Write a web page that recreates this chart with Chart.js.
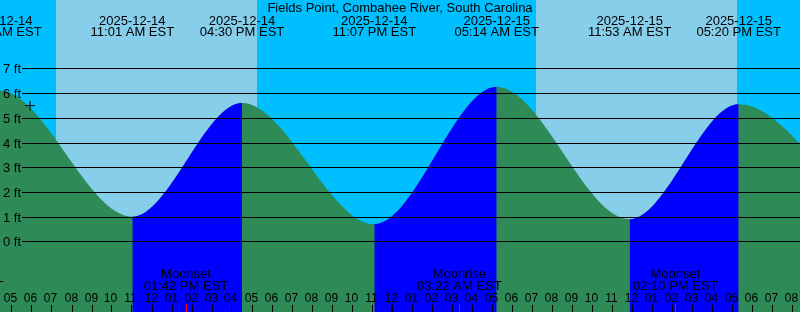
<!DOCTYPE html>
<html lang="en">
<head>
    <meta charset="UTF-8">
    <title>Fields Point Tides</title>

    <!--  Chart.js  -->
    <script src="https://cdn.jsdelivr.net/npm/chart.js@4.4.1/dist/chart.umd.min.js"></script>

    <style>
        html, body { margin: 0; padding: 0; background: #00BFFF; overflow: hidden; }
        #tideChart { display: block; }
    </style>
</head>
<body>
    <canvas id="tideChart" width="800" height="312"></canvas>

    <script>
        // ***********
        // Tide graph for Fields Point, Combahee River, SC (times are EST)
        // ***********
        var stationName = 'Fields Point, Combahee River, South Carolina';

        // Highs and lows (first and last one fall outside the window)
        var tideDates   = ['2025-12-13', '2025-12-14', '2025-12-14', '2025-12-14', '2025-12-14', '2025-12-15', '2025-12-15', '2025-12-15', '2025-12-15'];
        var tideClock   = ['10:05 PM', '04:22 AM', '11:01 AM', '04:30 PM', '11:07 PM', '05:14 AM', '11:53 AM', '05:20 PM', '11:55 PM'];
        var tideHeights = [0.9, 6.1, 1.0, 5.6, 0.7, 6.25, 0.9, 5.55, 0.7];

        // Daylight
        var sunDates = ['2025-12-14', '2025-12-15'];
        var sunrise  = ['07:12 AM', '07:12 AM'];
        var sunset   = ['05:15 PM', '05:15 PM'];

        // Moon events
        var moonDates = ['2025-12-14', '2025-12-15', '2025-12-15'];
        var moonClock = ['01:42 PM', '03:22 AM', '02:10 PM'];
        var moonKind  = ['Moonset', 'Moonrise', 'Moonset'];

        // "Now" marker
        var nowPoint = {x: 5.9, y: 5.49};

        // Depth tick labels (ft)
        var feetTicks = [0, 1, 2, 3, 4, 5, 6, 7];

        // Visible window, hours from 2025-12-14 00:00
        var windowStart = 4.40;
        var windowEnd   = 44.40;

        var NIGHT = '#00BFFF', DAY = '#87CEEB', EBB = '#2E8B57', FLOOD = '#0000FF';
        var FONT = '"Liberation Sans", Arial, sans-serif';


        // Convert date + "hh:mm AM" to hours from 2025-12-14 00:00
        function toHours(date, clock) {
            var day = parseInt(date.slice(8), 10) - 14;
            var hh = parseInt(clock.slice(0, 2), 10) % 12;
            var mm = parseInt(clock.slice(3, 5), 10);
            if (clock.slice(6) === 'PM') { hh += 12; }
            return day * 24 + hh + mm / 60;
        } // END: toHours

        var tideHours = tideDates.map(function(d, i) { return toHours(d, tideClock[i]); });
        var tideData  = tideHours.map(function(t, i) { return {x: t, y: tideHeights[i]}; });


        // ************
        // Decorations
        // ************
        var tideDecor = {
            id: 'tideDecor',

            // Night / day background
            beforeDatasetsDraw: function(chart) {
                var ctx = chart.ctx, xs = chart.scales.x, area = chart.chartArea;
                ctx.save();
                ctx.fillStyle = NIGHT;
                ctx.fillRect(area.left, area.top, area.width, area.height);
                ctx.fillStyle = DAY;
                for (var i = 0; i < sunDates.length; i++) {
                    var x0 = Math.round(xs.getPixelForValue(toHours(sunDates[i], sunrise[i])));
                    var x1 = Math.round(xs.getPixelForValue(toHours(sunDates[i], sunset[i])));
                    ctx.fillRect(x0, area.top, x1 - x0, area.height);
                }
                ctx.restore();
            },

            // Grid lines, labels and hour ticks on top of the water
            afterDatasetsDraw: function(chart) {
                var ctx = chart.ctx, xs = chart.scales.x, ys = chart.scales.y, area = chart.chartArea;
                ctx.save();
                ctx.fillStyle = '#000';
                ctx.strokeStyle = '#000';
                ctx.lineWidth = 1;

                // Depth lines + labels
                ctx.font = '13px ' + FONT;
                ctx.textAlign = 'right';
                feetTicks.forEach(function(ft) {
                    var y = Math.round(ys.getPixelForValue(ft)) + 0.5;
                    ctx.beginPath();
                    ctx.moveTo(22, y);
                    ctx.lineTo(area.right, y);
                    ctx.stroke();
                    ctx.fillText(ft + ' ft', 21, y + 4);
                });
                ctx.fillRect(0, 281, 3, 1);

                // Title
                ctx.textAlign = 'center';
                ctx.fillText(stationName, 400, 12);

                // High / low labels
                for (var i = 0; i < tideHours.length; i++) {
                    var x = xs.getPixelForValue(tideHours[i]);
                    ctx.fillText(tideDates[i], x, 25);
                    ctx.fillText(tideClock[i] + ' EST', x, 36);
                }

                // Moon labels
                for (var m = 0; m < moonClock.length; m++) {
                    var mx = xs.getPixelForValue(toHours(moonDates[m], moonClock[m]));
                    ctx.fillText(moonKind[m], mx, 278);
                    ctx.fillText(moonClock[m] + ' EST', mx, 290);
                }

                // Hour ticks
                ctx.font = '12px ' + FONT;
                for (var h = Math.ceil(windowStart); h <= windowEnd; h++) {
                    var hx = Math.floor(xs.getPixelForValue(h));
                    var lab = (h % 12) || 12;
                    ctx.fillStyle = '#000';
                    ctx.fillText((lab < 10 ? '0' : '') + lab, hx - 0.5, 302);
                    ctx.fillRect(h % 24 === 0 ? hx - 1 : hx, 305, h % 24 === 0 ? 2 : 1, 7);
                }

                // Moon ticks in red
                ctx.fillStyle = '#FF0000';
                for (var k = 0; k < moonClock.length; k++) {
                    var kx = Math.floor(xs.getPixelForValue(toHours(moonDates[k], moonClock[k])));
                    ctx.fillRect(kx, 304, 1, 8);
                }
                ctx.restore();
            }
        };


        // ********
        // Chart
        // ********
        // Two copies of the same curve: green underneath everywhere,
        // blue laid over the rising stretches (avoids seams between fills)
        function waterDataset(rising) {
            return {
                data: tideData,
                cubicInterpolationMode: 'monotone',
                fill: 'start',
                backgroundColor: rising ? FLOOD : EBB,
                borderColor: 'rgba(0,0,0,0)',
                borderWidth: 0,
                pointRadius: 0,
                segment: rising ? {
                    backgroundColor: function(c) { return c.p1.parsed.y > c.p0.parsed.y ? FLOOD : 'rgba(0,0,0,0)'; }
                } : {}
            };
        } // END: waterDataset

        // Chart.js paints the first dataset last, so: marker, blue, then green
        var tideChart = new Chart(document.getElementById('tideChart'), {
            type: 'line',
            data: {
                datasets: [{
                    data: [nowPoint],
                    showLine: false,
                    pointStyle: 'cross',
                    pointRadius: 5,
                    pointBorderColor: '#000',
                    pointBorderWidth: 1
                }, waterDataset(true), waterDataset(false)]
            },
            options: {
                responsive: false,
                devicePixelRatio: 1,
                animation: false,
                layout: { padding: 0, autoPadding: false },
                scales: {
                    x: { type: 'linear', min: windowStart, max: windowEnd, display: false },
                    y: { type: 'linear', min: -2.85, max: 9.76, display: false }
                },
                plugins: {
                    legend: { display: false },
                    tooltip: { enabled: false }
                }
            },
            plugins: [tideDecor]
        });
    </script>
</body>
</html>
